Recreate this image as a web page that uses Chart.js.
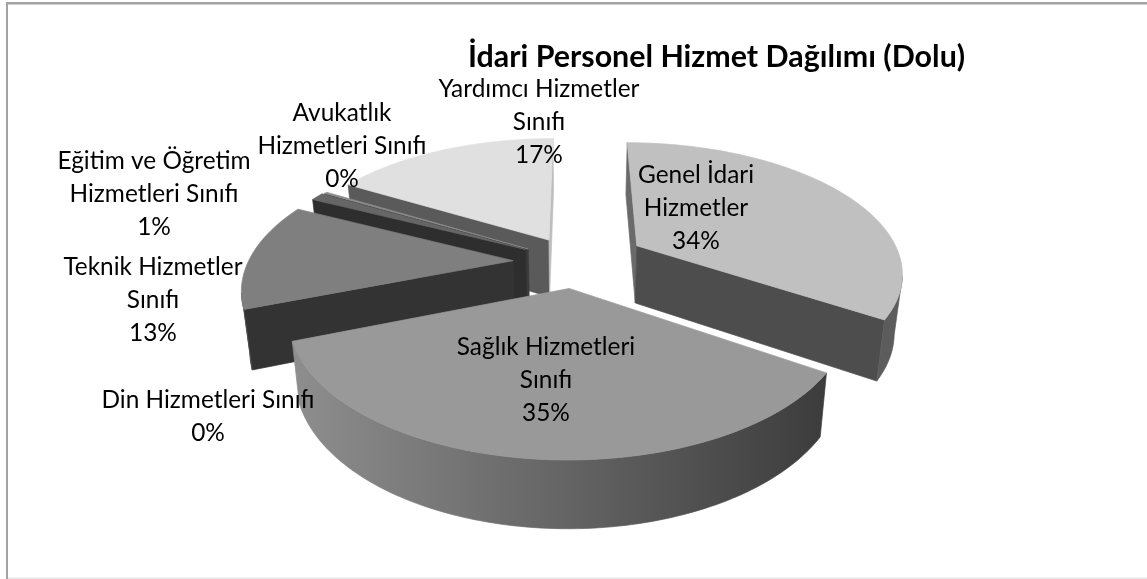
<!DOCTYPE html>
<html><head><meta charset="utf-8">
<style>html,body{margin:0;padding:0;background:#fff}canvas{display:block}</style>
<script src="https://cdn.jsdelivr.net/npm/chart.js@4"></script>
</head><body>
<canvas id="c" width="1147" height="579"></canvas>
<script>
const categories = ['Genel İdari Hizmetler','Sağlık Hizmetleri Sınıfı','Din Hizmetleri Sınıfı','Teknik Hizmetler Sınıfı','Eğitim ve Öğretim Hizmetleri Sınıfı','Avukatlık Hizmetleri Sınıfı','Yardımcı Hizmetler Sınıfı'];
const values = [34.2,35,0,13,1,0.2,16.6];
const titleText = 'İdari Personel Hizmet Dağılımı (Dolu)';
const labelLines = [['Genel İdari','Hizmetler'],['Sağlık Hizmetleri','Sınıfı'],['Din Hizmetleri Sınıfı'],['Teknik Hizmetler','Sınıfı'],['Eğitim ve Öğretim','Hizmetleri Sınıfı'],['Avukatlık','Hizmetleri Sınıfı'],['Yardımcı Hizmetler','Sınıfı']];

// styling and layout
const topColors = ['#c0c0c0','#999999','#8a8a8a','#7f7f7f','#666666','#8c8c8c','#e0e0e0'];
const startFaceColors = ['#6a6a6a','#3e3e3e','#333333','#333333','#2e2e2e','#3a3a3a','#5a5a5a'];
const endFaceColors = ['#4d4d4d','#3e3e3e','#333333','#333333','#2e2e2e','#3a3a3a','#bdbdbd'];
const rimColors = [['#5c5c5c','#5c5c5c'],['#8e8e8e','#3c3c3c'],['#555555','#555555'],['#4a4a4a','#3a3a3a'],['#333333','#333333'],['#555555','#555555'],['#666666','#c4c4c4']];
const explode = [72,53,50,62,57,55,54];
const labelCenters = [[696,175],[546,347],[208,400],[153,267],[154,161],[342,113],[539,89]];
const lineGap = 33;
const view = {ox:575, oy:262, radius:265, k:0.483, persp:1412};
const FONT = 'Lato, Carlito, sans-serif';

const total = values.reduce((a,b)=>a+b,0);

function project(px, py){
  const f = 1/(1 - py/view.persp);
  return {x:view.ox + px*f, y:view.oy + view.k*py*f, f};
}
function lower(p){
  const h = 21 + 37*p.f;
  return {x:view.ox + (p.x-view.ox)*0.975, y:p.y + h};
}
function outline(arc, offset){
  const {startAngle:s, endAngle:e} = arc.getProps(['startAngle','endAngle'], true);
  const mid=(s+e)/2, R=view.radius;
  const dx=Math.cos(mid)*offset, dy=Math.sin(mid)*offset;
  const pts=[project(dx,dy)];
  const n=Math.max(2,Math.ceil((e-s)/0.02));
  for(let i=0;i<=n;i++){
    const a=s+(e-s)*i/n;
    pts.push(project(dx+Math.cos(a)*R, dy+Math.sin(a)*R));
  }
  return {pts, empty:e-s<=0, sortKey:dy+Math.sin(mid)*R*0.5};
}
function fillPoly(ctx, poly, color){
  ctx.beginPath();
  poly.forEach((p,i)=> i?ctx.lineTo(p.x,p.y):ctx.moveTo(p.x,p.y));
  ctx.closePath();
  ctx.fillStyle=color; ctx.strokeStyle=color; ctx.lineWidth=0.7;
  ctx.fill(); ctx.stroke();
}
const pie3d = {
  id:'pie3d',
  beforeDraw(chart){
    const ctx=chart.ctx;
    ctx.save();
    ctx.fillStyle='#fff'; ctx.fillRect(0,0,1147,579);
    ctx.fillStyle='#a3a3a3';
    ctx.fillRect(6,2,1141,2.5);
    ctx.fillRect(6,2,2,577);
    ctx.fillStyle='#e6e6e6';
    ctx.fillRect(8,577.5,1139,1.5);
    ctx.restore();
  },
  beforeDatasetsDraw(chart){
    const ctx=chart.ctx, arcs=chart.getDatasetMeta(0).data;
    const slices=arcs.map((arc,i)=>({i,...outline(arc,explode[i])})).filter(s=>!s.empty);
    slices.sort((a,b)=>a.sortKey-b.sortKey);
    ctx.save();
    for(const sl of slices){
      const {pts,i}=sl, n=pts.length;
      const xs=pts.map(p=>p.x);
      const g=ctx.createLinearGradient(Math.min(...xs),0,Math.max(...xs),0);
      g.addColorStop(0,rimColors[i][0]); g.addColorStop(1,rimColors[i][1]);
      const tip=pts[0], a=pts[1], b=pts[n-1];
      // only walls that face the viewer (edge runs right to left on a clockwise outline)
      if(tip.x>a.x) fillPoly(ctx,[tip,a,lower(a),lower(tip)],startFaceColors[i]);
      if(b.x>tip.x) fillPoly(ctx,[b,tip,lower(tip),lower(b)],endFaceColors[i]);
      const run=[];
      for(let j=1;j<n;j++){
        const prev=pts[j-1<1?1:j-1], next=pts[j+1<n?j+1:j];
        if(prev.x>next.x) run.push(pts[j]);
      }
      if(run.length>1) fillPoly(ctx,[...run,...run.slice().reverse().map(p=>lower(p))],g);
      fillPoly(ctx,pts,topColors[i]);
    }
    ctx.restore();
    return false;
  },
  afterDraw(chart){
    const ctx=chart.ctx;
    ctx.save();
    ctx.fillStyle='#000'; ctx.font='24.4px '+FONT;
    ctx.textAlign='center'; ctx.textBaseline='middle';
    labelLines.forEach((lines,i)=>{
      const all=[...lines, Math.round(values[i]/total*100)+'%'];
      all.forEach((t,j)=>ctx.fillText(t,labelCenters[i][0],labelCenters[i][1]+j*lineGap));
    });
    ctx.restore();
  }
};
new Chart(document.getElementById('c'),{
  type:'pie',
  data:{labels:categories,datasets:[{data:values,backgroundColor:topColors,offset:explode,borderWidth:0}]},
  options:{
    responsive:false,animation:false,
    layout:{padding:{left:286,top:0}},
    plugins:{
      legend:{display:false},tooltip:{enabled:false},
      title:{display:true,text:titleText,color:'#000',fullSize:false,
        font:{family:FONT,size:30.4,weight:'bold'},padding:{top:39,bottom:10}}
    }
  },
  plugins:[pie3d]
});
</script>
</body></html>
